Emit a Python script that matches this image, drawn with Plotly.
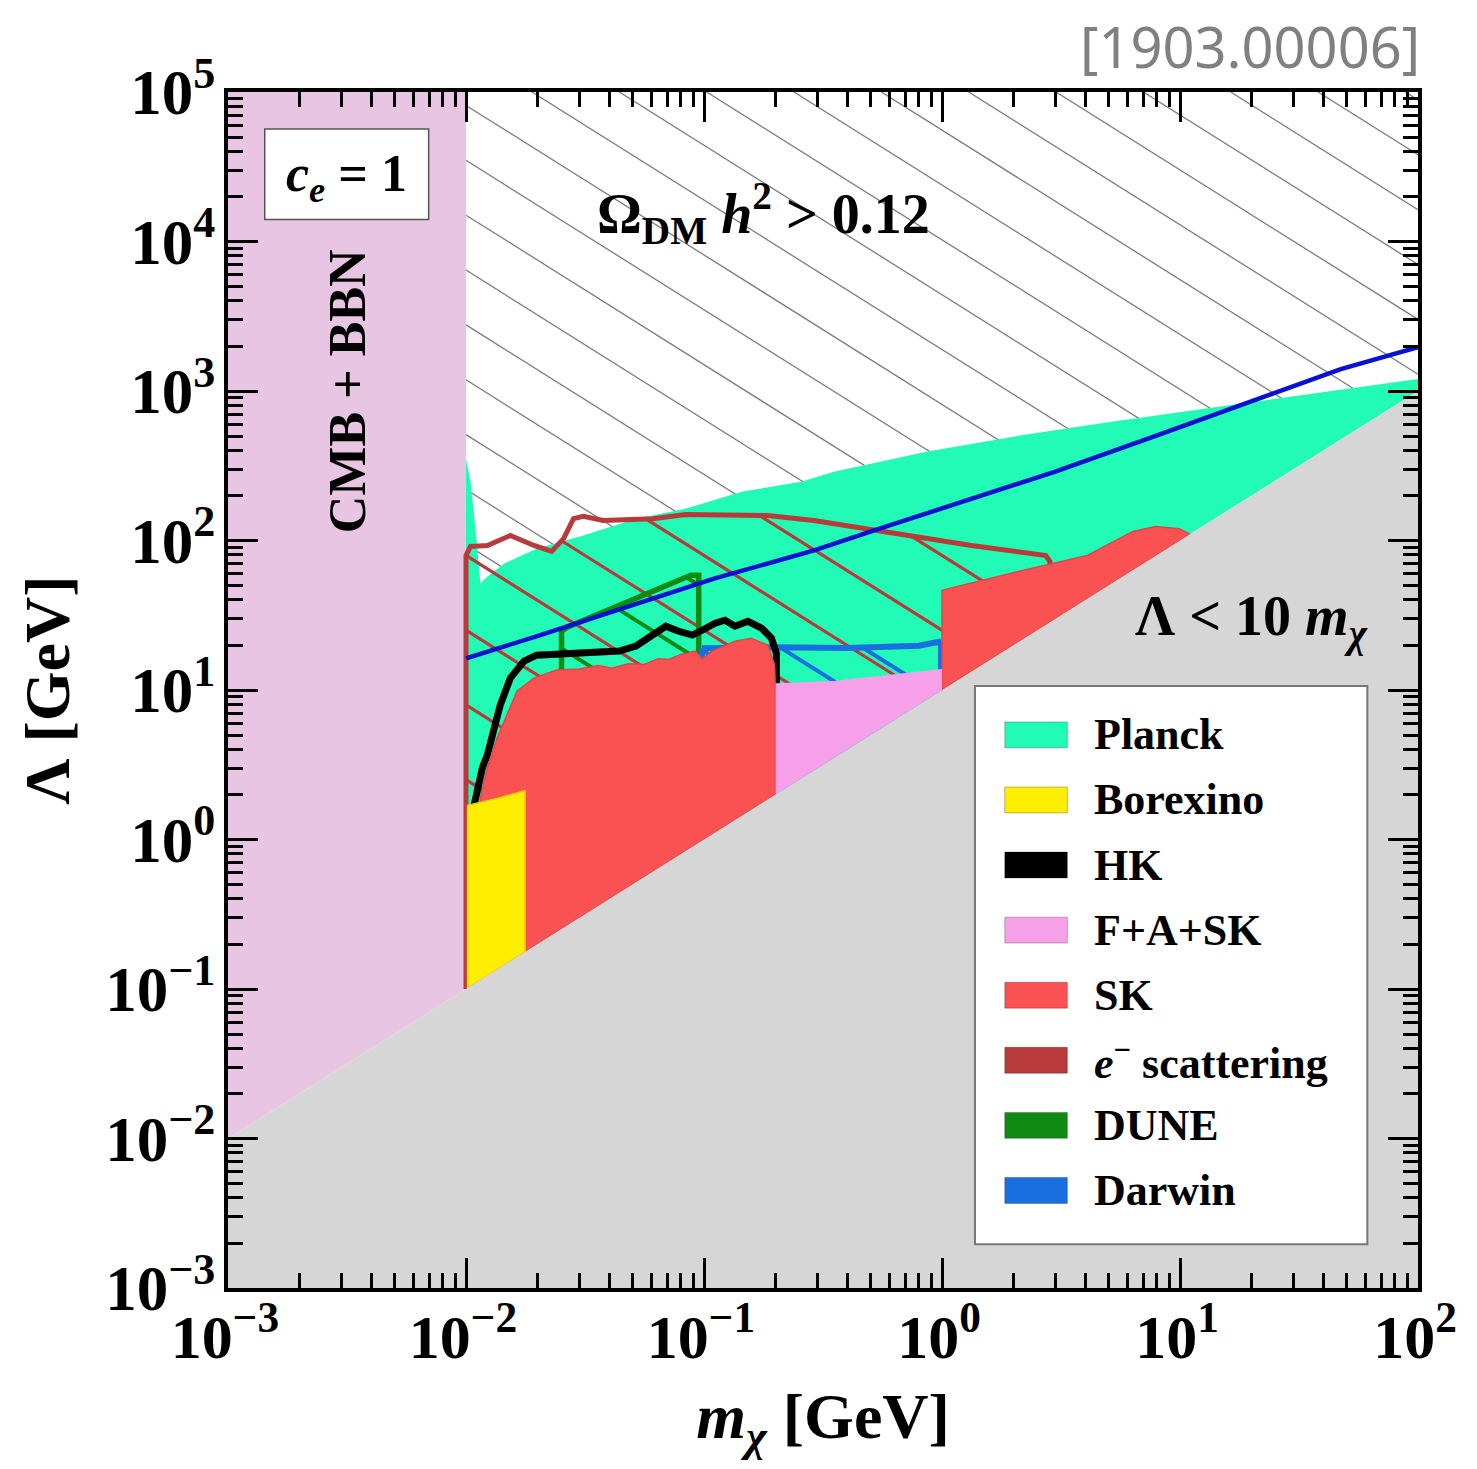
import numpy as np
import plotly.graph_objects as go

# ---------------- data (m_chi [GeV], Lambda [GeV]) ----------------
planck_m = [0.01, 0.01045, 0.01096, 0.0115, 0.0123, 0.01449, 0.01986, 0.0311, 0.0518,
            0.0835, 0.144, 0.256, 0.351, 0.857, 2.09, 5.08, 12.4, 30.2, 59.0, 100.0]
planck_L = [352, 247, 120, 51.7, 57.5, 70.3, 88.5, 108, 140,
            163, 212, 247, 288, 392, 501, 621, 759, 926, 1080, 1202]

escat_m = [0.01, 0.01, 0.01045, 0.0123, 0.01535, 0.0193, 0.0229, 0.0257, 0.0283, 0.0311,
           0.0377, 0.061, 0.0836, 0.185, 0.290, 0.546, 1.33, 2.73, 2.84, 2.84]
escat_L = [0.1, 79.4, 91.2, 92.6, 108, 92.6, 84.5, 103, 140, 145,
           136, 140, 149, 147, 136, 115, 92.6, 79.4, 72.4, 28.4]

sk1_m = [0.0115, 0.0115, 0.0123, 0.01352, 0.01449, 0.0164, 0.0193, 0.024, 0.030, 0.036,
         0.041, 0.048, 0.056, 0.064, 0.071, 0.080, 0.0919, 0.0982, 0.108, 0.135, 0.158,
         0.185, 0.198, 0.2, 0.2]
sk1_L = [0.115, 1.9, 3.02, 4.79, 6.21, 9.85, 12.0, 13.6, 13.8, 14.6,
         14.0, 15.0, 14.8, 16.2, 16.0, 17.3, 18.2, 16.1, 18.2, 21.2, 22.2,
         20.0, 14.7, 8.85, 2.0]

sk2_m = [1.0, 1.0, 2.09, 4.08, 6.34, 7.9, 9.94, 11.0]
sk2_L = [10.0, 46.4, 62.1, 79.4, 115, 124, 120, 110]

fas_m = [0.2, 0.2, 0.351, 0.596, 1.0, 1.0]
fas_L = [2.0, 11.1, 11.5, 12.6, 13.8, 10.0]

bor_m = [0.01015, 0.01015, 0.0135, 0.0177, 0.0177]
bor_L = [0.1015, 1.69, 1.88, 2.12, 0.177]

hk_m = [0.01076, 0.01117, 0.01172, 0.0123, 0.01315, 0.01393, 0.01535, 0.01754, 0.0198,
        0.0272, 0.044, 0.0518, 0.0609, 0.0691, 0.0782, 0.0894, 0.0982, 0.1114, 0.1225,
        0.135, 0.1528, 0.1746, 0.192, 0.2015, 0.2015]
hk_L = [1.63, 2.22, 3.02, 3.69, 5.58, 7.94, 12.0, 15.6, 17.1,
        17.6, 18.2, 19.7, 23.3, 26.7, 24.7, 23.3, 25.1, 28.0, 29.3,
        26.7, 28.8, 25.9, 22.2, 17.6, 10.3]

dune_m = [0.0252, 0.0252, 0.0265, 0.088, 0.095, 0.095]
dune_L = [12.0, 24.7, 26.2, 58.5, 58.5, 12.0]

darwin_m = [0.098, 0.2, 0.4, 0.8, 0.97, 0.99, 0.99, 0.098]
darwin_L = [19.0, 19.3, 19.1, 19.8, 21.0, 20.2, 9.9, 0.98]

relic_m = [0.01, 0.0199, 0.111, 0.29, 0.546, 2.97, 7.9, 19.5, 47.4, 100.0]
relic_L = [16.3, 22.9, 55.8, 85.8, 120, 288, 501, 845, 1402, 1965]

x_range_dec = [-3, 2]
y_range_dec = [-3, 5]
cmb_mmax = 0.01          # CMB+BBN bound
cutoff_ratio = 10.0      # Lambda < 10 m_chi

legend_names = ["Planck", "Borexino", "HK", "F+A+SK", "SK",
                "<i>e</i><sup>−</sup> scattering", "DUNE", "Darwin"]
legend_colors = ["#22FBB6", "#FFEE00", "#000000", "#F7A0EA", "#FA5252",
                 "#B83A3A", "#118A11", "#1A6FE0"]

C_PLANCK, C_BOR, C_HK, C_FAS, C_SK, C_ESC, C_DUNE, C_DAR = legend_colors
C_GRAY = "#D6D6D6"
C_CMB = "#E8C5E2"
C_RELIC = "#0A10D0"
FONT = "Liberation Serif"


def hatch(xs, ys, spacing, phase):
    """Lines of constant log(m)+log(Lambda), clipped to polygon."""
    u = np.log10(np.asarray(xs, float))
    v = np.log10(np.asarray(ys, float))
    u = np.append(u, u[0])
    v = np.append(v, v[0])
    s = u + v
    k0 = np.ceil((s.min() - phase) / spacing)
    k1 = np.floor((s.max() - phase) / spacing)
    ox, oy = [], []
    for k in np.arange(k0, k1 + 1):
        c = phase + k * spacing
        pts = []
        for i in range(len(u) - 1):
            f0, f1 = s[i] - c, s[i + 1] - c
            if (f0 < 0) != (f1 < 0):
                t = f0 / (f0 - f1)
                pts.append(u[i] + t * (u[i + 1] - u[i]))
        pts.sort()
        for a, b in zip(pts[0::2], pts[1::2]):
            ox += [10 ** a, 10 ** b, None]
            oy += [10 ** (c - a), 10 ** (c - b), None]
    return ox, oy


fig = go.Figure()


def poly(xs, ys, fill, line_color=None, lw=0):
    fig.add_trace(go.Scatter(x=list(xs) + [xs[0]], y=list(ys) + [ys[0]], mode="lines",
                             fill="toself", fillcolor=fill,
                             line=dict(color=line_color or fill, width=lw),
                             hoverinfo="skip", showlegend=False))


def lines(xs, ys, color, lw, close=False):
    xs, ys = list(xs), list(ys)
    if close:
        xs.append(xs[0]); ys.append(ys[0])
    fig.add_trace(go.Scatter(x=xs, y=ys, mode="lines", line=dict(color=color, width=lw),
                             hoverinfo="skip", showlegend=False))


xmin, xmax = 10.0 ** x_range_dec[0], 10.0 ** x_range_dec[1]
ymin, ymax = 10.0 ** y_range_dec[0], 10.0 ** y_range_dec[1]

# Omega h^2 > 0.12 hatched background
om_x = [cmb_mmax, cmb_mmax, xmax, xmax]
om_y = [cutoff_ratio * cmb_mmax, ymax, ymax, cutoff_ratio * xmax]
hx, hy = hatch(om_x, om_y, 0.367, 2.91)
lines(hx, hy, "#7c7c7c", 1.3)

# Planck
pl_x = planck_m + [xmax, cmb_mmax]
pl_y = planck_L + [cutoff_ratio * xmax, cutoff_ratio * cmb_mmax]
poly(pl_x, pl_y, C_PLANCK)

# CMB + BBN
poly([xmin, xmin, cmb_mmax, cmb_mmax], [cutoff_ratio * xmin, ymax, ymax, cutoff_ratio * cmb_mmax], C_CMB)

# e- scattering
hx, hy = hatch(escat_m, escat_L, 0.5, -0.1)
lines(hx, hy, C_ESC, 3.2)
lines(escat_m, escat_L, C_ESC, 5, close=True)

# DUNE
hx, hy = hatch(dune_m, dune_L, 0.5, -0.32)
lines(hx, hy, C_DUNE, 4)
lines(dune_m, dune_L, C_DUNE, 5.5, close=True)

# Darwin
hx, hy = hatch(darwin_m, darwin_L, 0.345, 0.605)
lines(hx, hy, C_DAR, 4)
lines(darwin_m, darwin_L, C_DAR, 6, close=True)

# HK
lines(hk_m, hk_L, C_HK, 7)

# SK
poly(sk1_m, sk1_L, C_SK, "#E04646", 1.5)
poly(sk2_m, sk2_L, C_SK, "#E04646", 1.5)

# F+A+SK
poly(fas_m, fas_L, C_FAS)

# Borexino
poly(bor_m, bor_L, C_BOR, "#E8D200", 1.5)

# Lambda < 10 m_chi
poly([xmin, xmin, xmax, xmax], [ymin, cutoff_ratio * xmin, cutoff_ratio * xmax, ymin], C_GRAY)

# relic line
lines(relic_m, relic_L, C_RELIC, 4.5)

# ---------------- axes ----------------
def ticklabels(decs):
    return [f"10<sup>{'−' if p < 0 else ''}{abs(p)}</sup>" for p in decs]


xdec = list(range(x_range_dec[0], x_range_dec[1] + 1))
ydec = list(range(y_range_dec[0], y_range_dec[1] + 1))
xminor = [m * 10.0 ** p for p in xdec[:-1] for m in range(2, 10)]
yminor = [m * 10.0 ** p for p in ydec[:-1] for m in range(2, 10)]

common = dict(type="log", showgrid=False, zeroline=False, showline=True, linecolor="black",
              linewidth=4, mirror="allticks", ticks="inside", ticklen=30, tickwidth=3,
              tickcolor="black", tickmode="array", ticklabeloverflow="allow")

fig.update_xaxes(range=x_range_dec, tickvals=[10.0 ** p for p in xdec], ticktext=ticklabels(xdec),
                 tickfont=dict(family=FONT, size=62, color="black", weight="bold"),
                 minor=dict(ticks="inside", ticklen=15, tickwidth=2.5, tickcolor="black",
                            tickvals=xminor, showgrid=False),
                 ticklabelstandoff=-8, ticklabelshift=-3,
                 title=dict(text="<i>m</i><sub><i>χ</i></sub> [GeV]",
                            font=dict(family=FONT, size=64, color="black", weight="bold"),
                            standoff=33),
                 **common)
fig.update_yaxes(range=y_range_dec, tickvals=[10.0 ** p for p in ydec], ticktext=ticklabels(ydec),
                 tickfont=dict(family=FONT, size=63, color="black", weight="bold"),
                 minor=dict(ticks="inside", ticklen=15, tickwidth=2.5, tickcolor="black",
                            tickvals=yminor, showgrid=False),
                 ticklabelstandoff=-4,
                 title=dict(text="Λ [GeV]",
                            font=dict(family=FONT, size=64, color="black", weight="bold"),
                            standoff=16),
                 **common)

# ---------------- annotations ----------------
W, H = 1198.0, 1200.0  # plot area size in px


def px2paper(px, py):
    return (px - 228) / W, (1292 - py) / H


shapes = []
annotations = []


def label(px, py, text, size, bold=True, angle=0, xanchor="center", color="black", family=FONT):
    ax, ay = px2paper(px, py)
    f = dict(family=family, size=size, color=color)
    if bold:
        f["weight"] = "bold"
    annotations.append(dict(x=ax, y=ay, xref="paper", yref="paper", showarrow=False,
                            xanchor=xanchor, yanchor="middle", textangle=angle,
                            text=text, font=f))


# c_e = 1 box
bx0, by0 = px2paper(265, 220)
bx1, by1 = px2paper(430, 129)
shapes.append(dict(type="rect", xref="paper", yref="paper", x0=bx0, y0=by0, x1=bx1, y1=by1,
                   fillcolor="white", line=dict(color="#555555", width=1.5), layer="above"))
label(347, 178, "<i>c</i><sub><i>e</i></sub> = 1", 52)
label(348, 392, "CMB + BBN", 52, angle=-90)
label(767, 213, "Ω<sub>DM</sub> <i>h</i><sup>2</sup> > 0.12", 56)
label(1258, 622, "Λ < 10 <i>m</i><sub><i>χ</i></sub>", 56)
label(1430, 46, "[1903.00006]", 56, bold=False, xanchor="right", color="#808080", family="Noto Sans")

# legend
lx0, ly0 = px2paper(980, 1248)
lx1, ly1 = px2paper(1375, 688)
shapes.append(dict(type="rect", xref="paper", yref="paper", x0=lx0, y0=ly0, x1=lx1, y1=ly1,
                   fillcolor="white", line=dict(color="#777777", width=2), layer="above"))
row0 = 737
row_step = 65.3
for i, (name, col) in enumerate(zip(legend_names, legend_colors)):
    cy = row0 + i * row_step
    sx0, sy0 = px2paper(1010, cy + 13)
    sx1, sy1 = px2paper(1073, cy - 13)
    shapes.append(dict(type="rect", xref="paper", yref="paper", x0=sx0, y0=sy0, x1=sx1, y1=sy1,
                       fillcolor=col, line=dict(color="rgba(0,0,0,0.25)", width=1), layer="above"))
    label(1098, cy, name, 44, xanchor="left")

# the page body adds an 8px margin on every side: size the figure so the page is exactly 1477x1469
# and keep every label inside the figure so the page never grows wider than the window
fig.update_layout(width=1461, height=1453, margin=dict(l=220, r=43, t=84, b=169),
                  plot_bgcolor="white", paper_bgcolor="white", showlegend=False,
                  shapes=shapes, annotations=annotations)

fig.write_html("out.html", config={"displayModeBar": False})
